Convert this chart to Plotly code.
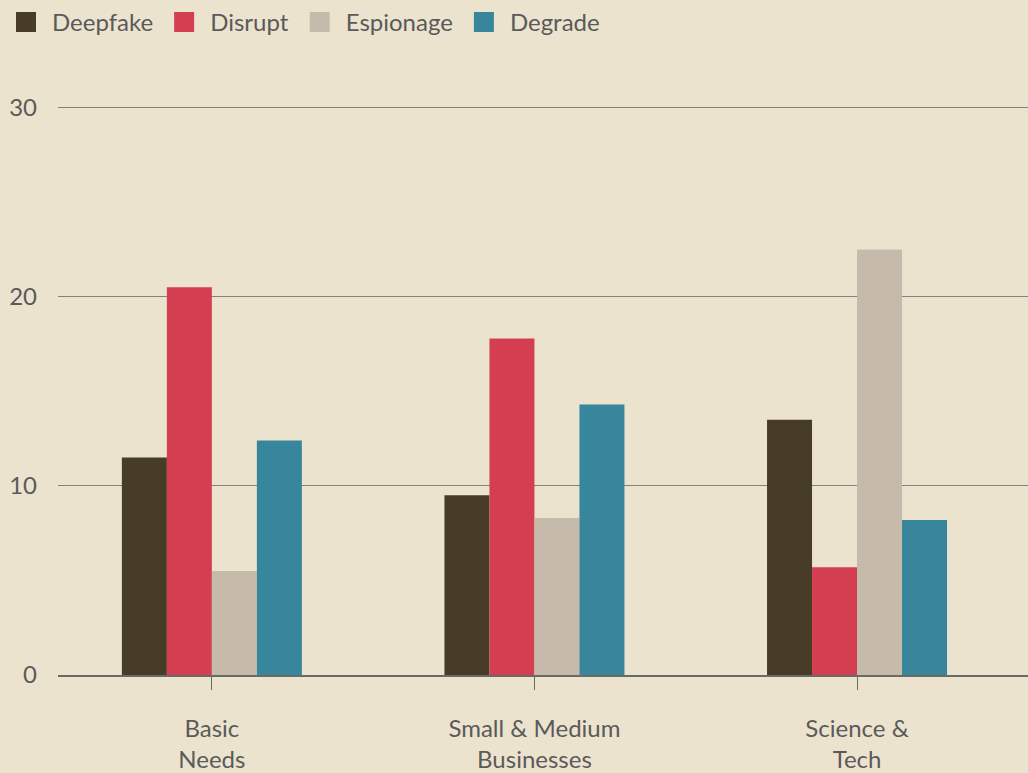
import plotly.graph_objects as go

# Threat types by sector
categories = ["Basic<br>Needs", "Small & Medium<br>Businesses", "Science &<br>Tech"]
deepfake = [11.5, 9.5, 13.5]
disrupt = [20.5, 17.8, 5.7]
espionage = [5.5, 8.3, 22.5]
degrade = [12.4, 14.3, 8.2]

series = [
    ("Deepfake", deepfake, "#463c28"),
    ("Disrupt", disrupt, "#d33f51"),
    ("Espionage", espionage, "#c6bbab"),
    ("Degrade", degrade, "#38869b"),
]

FONT = "Lato, 'Source Sans Pro', sans-serif"
TEXT = "#5a5a5a"

fig = go.Figure()
for name, vals, color in series:
    fig.add_trace(go.Bar(x=categories, y=vals, name=name, marker_color=color,
                         marker_line_width=0, showlegend=False))
    # legend swatch as a larger square marker
    fig.add_trace(go.Scatter(x=[None], y=[None], mode="markers", name=name,
                             marker=dict(symbol="square", size=16, color=color,
                                         line=dict(color=color, width=4))))

fig.update_layout(
    width=1028, height=773,
    margin=dict(l=58, r=0, t=51, b=95),
    paper_bgcolor="#ece3cf",
    plot_bgcolor="rgba(0,0,0,0)",
    barmode="group",
    bargap=0.442,
    bargroupgap=0,
    font=dict(family=FONT, size=24, color=TEXT),
    legend=dict(orientation="h", xref="container", yref="container",
                x=0, y=1, xanchor="left", yanchor="top",
                font=dict(size=24, color=TEXT), itemsizing="trace",
                itemwidth=42, bgcolor="rgba(0,0,0,0)"),
    xaxis=dict(range=[-0.477, 2.530], showgrid=False, showline=True,
               linecolor="#6a6a6a", linewidth=1.5,
               ticks="outside", ticklen=13, tickcolor="#6a6a6a", tickwidth=1,
               ticklabelstandoff=18, tickfont=dict(size=24, color=TEXT)),
    yaxis=dict(range=[0, 33], tickvals=[0, 10, 20, 30], showgrid=True,
               gridcolor="#858279", gridwidth=1, zeroline=False,
               ticklabelstandoff=20, tickfont=dict(size=24, color=TEXT)),
)

fig.write_html("out.html")
